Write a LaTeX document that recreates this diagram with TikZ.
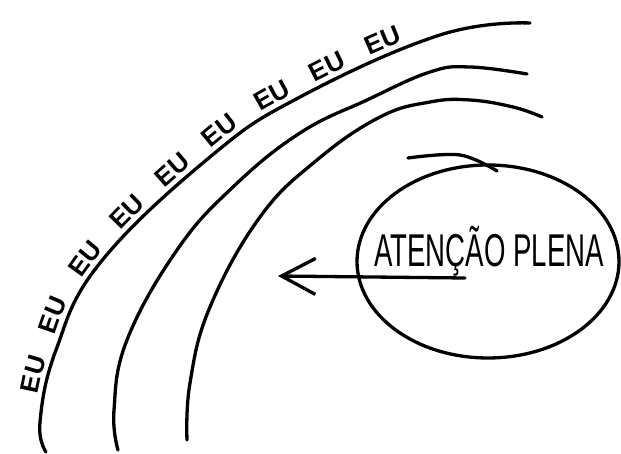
\documentclass[tikz,border=0pt]{standalone}
\usepackage{fontspec}
\setmainfont{Liberation Sans}
\usetikzlibrary{shapes.geometric,arrows.meta,decorations.text}

\begin{document}
\begin{tikzpicture}[x=1pt, y=1pt,
  pen/.style={line width=3.3pt, line cap=round, line join=round},
  every node/.style={font=\fontsize{46}{46}\selectfont}]
  \useasboundingbox (0,0) rectangle (621,454);
  % three rings, the outer one carries the words
  \draw[pen, postaction={decorate, decoration={text along path, raise=6pt,
      text={|\fontsize{26}{26}\selectfont\bfseries|EU EU EU EU EU EU EU EU EU},
      text align={fit to path stretching spaces, left indent=58pt, right indent=128pt}}}]
    plot[smooth, tension=0.7] coordinates {(46,2) (40,32) (56,104) (100,191)
      (210,297) (300,357) (440,419) (530,431)};
  \draw[pen] plot[smooth, tension=0.7] coordinates {(118,4) (114,44) (127,114)
      (177,204) (233,267) (300,321) (367,354) (430,382) (470,387) (527,380)};
  \draw[pen] plot[smooth, tension=0.7] coordinates {(187,14) (190,71) (210,147)
      (260,237) (317,294) (380,337) (430,352) (470,354) (513,347) (542,337)};
  % the circle
  \node[pen, draw, ellipse, minimum width=262pt, minimum height=193pt] (ring) at (488,192.5) {};
  \draw[pen] plot[smooth, tension=0.6] coordinates {(408,296) (460,299) (497,283)};
  \node[anchor=base] (aten) at (489,187) {\scalebox{0.6}[1]{ATENÇÃO PLENA}};
  \coordinate (tail) at (465,176);
  \coordinate (tip) at (278,178);
  \draw[pen, -{Straight Barb[length=34pt, width=36pt, line width=3.3pt]}] (tail) -- (tip);
\end{tikzpicture}
\end{document}
